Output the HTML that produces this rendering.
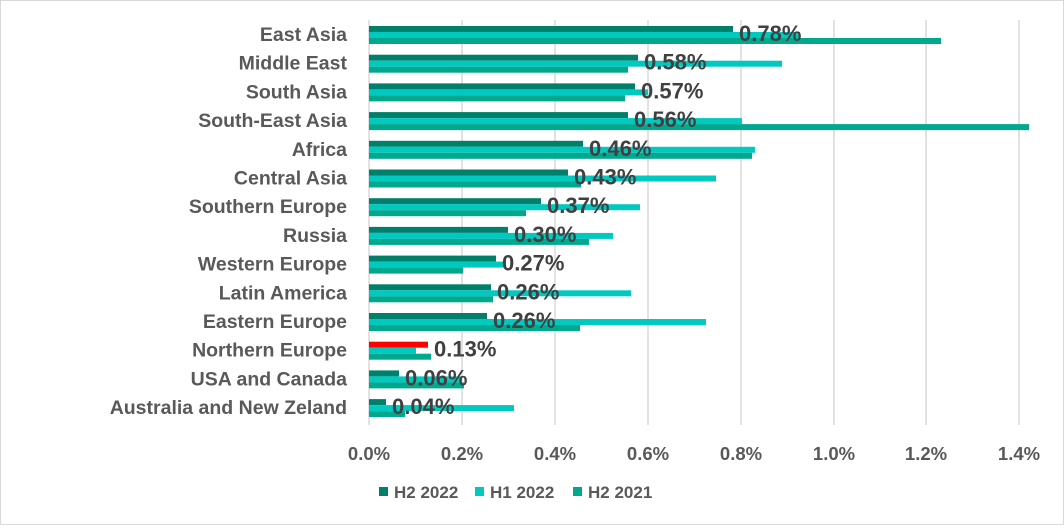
<!DOCTYPE html>
<html><head><style>
body{margin:0;background:#fff;}
</style></head><body>
<svg width="1064" height="525" xmlns="http://www.w3.org/2000/svg" font-family="Liberation Sans, sans-serif">
<rect x="0.5" y="0.5" width="1063" height="524" fill="#fff" stroke="#d9d9d9"/>
<g stroke="#d9d9d9" stroke-width="1.5">
<line x1="369" y1="20" x2="369" y2="425"/>
<line x1="462" y1="20" x2="462" y2="425"/>
<line x1="555" y1="20" x2="555" y2="425"/>
<line x1="648" y1="20" x2="648" y2="425"/>
<line x1="741" y1="20" x2="741" y2="425"/>
<line x1="834" y1="20" x2="834" y2="425"/>
<line x1="926" y1="20" x2="926" y2="425"/>
<line x1="1019" y1="20" x2="1019" y2="425"/>
</g>
<g id="bars"></g>
<g font-size="19.5" font-weight="bold" fill="#595959" text-anchor="end" id="cats"></g>
<g font-size="22" font-weight="bold" fill="#404040" id="vals"></g>
<g font-size="18.5" font-weight="bold" fill="#595959" text-anchor="middle">
<text x="369" y="460">0.0%</text><text x="462" y="460">0.2%</text><text x="555" y="460">0.4%</text><text x="648" y="460">0.6%</text><text x="741" y="460">0.8%</text><text x="834" y="460">1.0%</text><text x="926" y="460">1.2%</text><text x="1019" y="460">1.4%</text>
</g>
<g font-size="17" font-weight="bold" fill="#595959">
<rect x="379" y="487" width="9" height="9" fill="#00806a"/><text x="394" y="498">H2 2022</text>
<rect x="475" y="487" width="9" height="9" fill="#00c9c0"/><text x="490" y="498">H1 2022</text>
<rect x="573" y="487" width="9" height="9" fill="#00a88e"/><text x="588" y="498">H2 2021</text>
</g>
</svg>
<script>
var d=[["East Asia",733,800,941,"0.78%"],["Middle East",638,782,628,"0.58%"],["South Asia",635,648,625,"0.57%"],["South-East Asia",628,742,1029,"0.56%"],["Africa",583,755,752,"0.46%"],["Central Asia",568,716,581,"0.43%"],["Southern Europe",541,640,526,"0.37%"],["Russia",508,613,589,"0.30%"],["Western Europe",496,506,463,"0.27%"],["Latin America",491,631,493,"0.26%"],["Eastern Europe",487,706,580,"0.26%"],["Northern Europe",428,416,431,"0.13%"],["USA and Canada",399,462,464,"0.06%"],["Australia and New Zeland",386,514,405,"0.04%"]];
var ns="http://www.w3.org/2000/svg",b=document.getElementById("bars"),c=document.getElementById("cats"),v=document.getElementById("vals");
function el(p,t,a,tx){var e=document.createElementNS(ns,t);for(var k in a)e.setAttribute(k,a[k]);if(tx)e.textContent=tx;p.appendChild(e);}
d.forEach(function(r,i){var y=26+28.7*i;
el(b,"rect",{x:369,y:y,width:r[1]-369,height:6,fill:i==11?"#ff0000":"#00806a"});
el(b,"rect",{x:369,y:y+6,width:r[2]-369,height:6,fill:"#00c9c0"});
el(b,"rect",{x:369,y:y+12,width:r[3]-369,height:6,fill:"#00a88e"});
el(c,"text",{x:347,y:y+15},r[0]);
el(v,"text",{x:r[1]+6,y:y+15},r[4]);});
</script>
</body></html>
